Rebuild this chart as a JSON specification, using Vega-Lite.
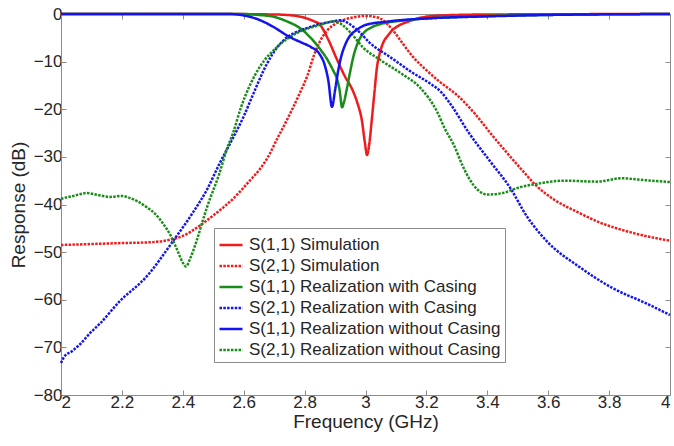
{
"$schema":"https://vega.github.io/schema/vega-lite/v6.json",
"width":609,"height":381,
"autosize":{"type":"none"},
"padding":{"left":61,"top":14,"right":4,"bottom":51},
"background":"white",
"config":{
 "font":"Liberation Sans",
 "view":{"stroke":"#8c8c8c","strokeWidth":1},
 "axis":{"domainColor":"#8c8c8c","tickColor":"#8c8c8c","labelColor":"#262626","titleColor":"#262626","labelFontSize":17,"titleFontSize":19,"titleFontWeight":"normal","grid":false,"tickSize":-5,"labelPadding":4},
 "legend":{"orient":"none","legendX":153,"legendY":214,"strokeColor":"#8c8c8c","fillColor":"white","padding":4,"labelFontSize":17,"labelColor":"#262626","symbolType":"stroke","symbolSize":529,"symbolStrokeWidth":2.5,"rowPadding":0,"labelOffset":5,"labelLimit":400,"title":null}
},
"data":{"values":[
{"s":"S(1,1) Simulation","f":2,"y":0},{"s":"S(1,1) Simulation","f":2.5,"y":0},{"s":"S(1,1) Simulation","f":2.7,"y":-0.1},{"s":"S(1,1) Simulation","f":2.76,"y":-0.3},{"s":"S(1,1) Simulation","f":2.8,"y":-0.8},{"s":"S(1,1) Simulation","f":2.83,"y":-1.5},{"s":"S(1,1) Simulation","f":2.85,"y":-2.2},{"s":"S(1,1) Simulation","f":2.875,"y":-5},{"s":"S(1,1) Simulation","f":2.906,"y":-9.5},{"s":"S(1,1) Simulation","f":2.93,"y":-12.8},{"s":"S(1,1) Simulation","f":2.959,"y":-16.2},{"s":"S(1,1) Simulation","f":2.975,"y":-19},{"s":"S(1,1) Simulation","f":2.988,"y":-22.3},{"s":"S(1,1) Simulation","f":2.998,"y":-27},{"s":"S(1,1) Simulation","f":3.005,"y":-29.6},{"s":"S(1,1) Simulation","f":3.012,"y":-27.5},{"s":"S(1,1) Simulation","f":3.021,"y":-22},{"s":"S(1,1) Simulation","f":3.03,"y":-16},{"s":"S(1,1) Simulation","f":3.037,"y":-11.5},{"s":"S(1,1) Simulation","f":3.047,"y":-8.2},{"s":"S(1,1) Simulation","f":3.057,"y":-6.2},{"s":"S(1,1) Simulation","f":3.075,"y":-4.4},{"s":"S(1,1) Simulation","f":3.09,"y":-3.3},{"s":"S(1,1) Simulation","f":3.11,"y":-2.4},{"s":"S(1,1) Simulation","f":3.136,"y":-1.7},{"s":"S(1,1) Simulation","f":3.18,"y":-0.8},{"s":"S(1,1) Simulation","f":3.25,"y":-0.3},{"s":"S(1,1) Simulation","f":3.4,"y":-0.1},{"s":"S(1,1) Simulation","f":4,"y":0},
{"s":"S(2,1) Simulation","f":2,"y":-48.5},{"s":"S(2,1) Simulation","f":2.1,"y":-48.3},{"s":"S(2,1) Simulation","f":2.2,"y":-48.1},{"s":"S(2,1) Simulation","f":2.3,"y":-47.9},{"s":"S(2,1) Simulation","f":2.35,"y":-47.5},{"s":"S(2,1) Simulation","f":2.4,"y":-46.6},{"s":"S(2,1) Simulation","f":2.45,"y":-44.7},{"s":"S(2,1) Simulation","f":2.5,"y":-42.3},{"s":"S(2,1) Simulation","f":2.565,"y":-38.8},{"s":"S(2,1) Simulation","f":2.62,"y":-35},{"s":"S(2,1) Simulation","f":2.654,"y":-32.5},{"s":"S(2,1) Simulation","f":2.68,"y":-30},{"s":"S(2,1) Simulation","f":2.71,"y":-26.2},{"s":"S(2,1) Simulation","f":2.74,"y":-22.5},{"s":"S(2,1) Simulation","f":2.785,"y":-16.5},{"s":"S(2,1) Simulation","f":2.81,"y":-12.8},{"s":"S(2,1) Simulation","f":2.83,"y":-8.8},{"s":"S(2,1) Simulation","f":2.85,"y":-5.8},{"s":"S(2,1) Simulation","f":2.875,"y":-3.4},{"s":"S(2,1) Simulation","f":2.906,"y":-1.9},{"s":"S(2,1) Simulation","f":2.96,"y":-0.7},{"s":"S(2,1) Simulation","f":3.0,"y":-0.4},{"s":"S(2,1) Simulation","f":3.03,"y":-0.6},{"s":"S(2,1) Simulation","f":3.05,"y":-1},{"s":"S(2,1) Simulation","f":3.07,"y":-2},{"s":"S(2,1) Simulation","f":3.09,"y":-3.4},{"s":"S(2,1) Simulation","f":3.12,"y":-6},{"s":"S(2,1) Simulation","f":3.156,"y":-9},{"s":"S(2,1) Simulation","f":3.2,"y":-11.8},{"s":"S(2,1) Simulation","f":3.245,"y":-14.3},{"s":"S(2,1) Simulation","f":3.3,"y":-17},{"s":"S(2,1) Simulation","f":3.36,"y":-21},{"s":"S(2,1) Simulation","f":3.41,"y":-25},{"s":"S(2,1) Simulation","f":3.46,"y":-28.8},{"s":"S(2,1) Simulation","f":3.52,"y":-33.2},{"s":"S(2,1) Simulation","f":3.56,"y":-36},{"s":"S(2,1) Simulation","f":3.62,"y":-39},{"s":"S(2,1) Simulation","f":3.7,"y":-41.7},{"s":"S(2,1) Simulation","f":3.77,"y":-43.8},{"s":"S(2,1) Simulation","f":3.83,"y":-45.1},{"s":"S(2,1) Simulation","f":3.88,"y":-46},{"s":"S(2,1) Simulation","f":3.94,"y":-46.9},{"s":"S(2,1) Simulation","f":4,"y":-47.6},
{"s":"S(1,1) Realization with Casing","f":2,"y":0},{"s":"S(1,1) Realization with Casing","f":2.6,"y":0},{"s":"S(1,1) Realization with Casing","f":2.65,"y":-0.2},{"s":"S(1,1) Realization with Casing","f":2.7,"y":-0.6},{"s":"S(1,1) Realization with Casing","f":2.74,"y":-1.5},{"s":"S(1,1) Realization with Casing","f":2.79,"y":-3.2},{"s":"S(1,1) Realization with Casing","f":2.82,"y":-5},{"s":"S(1,1) Realization with Casing","f":2.85,"y":-7.3},{"s":"S(1,1) Realization with Casing","f":2.874,"y":-9.5},{"s":"S(1,1) Realization with Casing","f":2.895,"y":-12},{"s":"S(1,1) Realization with Casing","f":2.906,"y":-13.5},{"s":"S(1,1) Realization with Casing","f":2.915,"y":-16},{"s":"S(1,1) Realization with Casing","f":2.923,"y":-19.6},{"s":"S(1,1) Realization with Casing","f":2.93,"y":-18.3},{"s":"S(1,1) Realization with Casing","f":2.94,"y":-15.3},{"s":"S(1,1) Realization with Casing","f":2.95,"y":-12},{"s":"S(1,1) Realization with Casing","f":2.96,"y":-9},{"s":"S(1,1) Realization with Casing","f":2.975,"y":-6},{"s":"S(1,1) Realization with Casing","f":2.99,"y":-4.3},{"s":"S(1,1) Realization with Casing","f":3.02,"y":-2.8},{"s":"S(1,1) Realization with Casing","f":3.05,"y":-2.1},{"s":"S(1,1) Realization with Casing","f":3.135,"y":-1.3},{"s":"S(1,1) Realization with Casing","f":3.32,"y":-0.6},{"s":"S(1,1) Realization with Casing","f":3.6,"y":-0.2},{"s":"S(1,1) Realization with Casing","f":4,"y":0},
{"s":"S(2,1) Realization with Casing","f":2,"y":-73.3},{"s":"S(2,1) Realization with Casing","f":2.01,"y":-72},{"s":"S(2,1) Realization with Casing","f":2.036,"y":-70.8},{"s":"S(2,1) Realization with Casing","f":2.06,"y":-69.5},{"s":"S(2,1) Realization with Casing","f":2.1,"y":-66.7},{"s":"S(2,1) Realization with Casing","f":2.128,"y":-65},{"s":"S(2,1) Realization with Casing","f":2.19,"y":-60.5},{"s":"S(2,1) Realization with Casing","f":2.28,"y":-55.2},{"s":"S(2,1) Realization with Casing","f":2.37,"y":-47.5},{"s":"S(2,1) Realization with Casing","f":2.43,"y":-42},{"s":"S(2,1) Realization with Casing","f":2.48,"y":-36.8},{"s":"S(2,1) Realization with Casing","f":2.52,"y":-31.5},{"s":"S(2,1) Realization with Casing","f":2.565,"y":-26},{"s":"S(2,1) Realization with Casing","f":2.6,"y":-21.5},{"s":"S(2,1) Realization with Casing","f":2.63,"y":-17},{"s":"S(2,1) Realization with Casing","f":2.676,"y":-10.5},{"s":"S(2,1) Realization with Casing","f":2.71,"y":-7},{"s":"S(2,1) Realization with Casing","f":2.74,"y":-5},{"s":"S(2,1) Realization with Casing","f":2.78,"y":-3.6},{"s":"S(2,1) Realization with Casing","f":2.81,"y":-2.9},{"s":"S(2,1) Realization with Casing","f":2.85,"y":-2.1},{"s":"S(2,1) Realization with Casing","f":2.89,"y":-1.6},{"s":"S(2,1) Realization with Casing","f":2.917,"y":-1.3},{"s":"S(2,1) Realization with Casing","f":2.95,"y":-2.2},{"s":"S(2,1) Realization with Casing","f":2.98,"y":-3.8},{"s":"S(2,1) Realization with Casing","f":3.015,"y":-6.1},{"s":"S(2,1) Realization with Casing","f":3.08,"y":-9},{"s":"S(2,1) Realization with Casing","f":3.156,"y":-12.4},{"s":"S(2,1) Realization with Casing","f":3.21,"y":-14.5},{"s":"S(2,1) Realization with Casing","f":3.25,"y":-16.5},{"s":"S(2,1) Realization with Casing","f":3.28,"y":-19},{"s":"S(2,1) Realization with Casing","f":3.34,"y":-25},{"s":"S(2,1) Realization with Casing","f":3.41,"y":-31},{"s":"S(2,1) Realization with Casing","f":3.475,"y":-36.5},{"s":"S(2,1) Realization with Casing","f":3.53,"y":-42.5},{"s":"S(2,1) Realization with Casing","f":3.6,"y":-48},{"s":"S(2,1) Realization with Casing","f":3.7,"y":-53},{"s":"S(2,1) Realization with Casing","f":3.81,"y":-57.5},{"s":"S(2,1) Realization with Casing","f":3.92,"y":-60.7},{"s":"S(2,1) Realization with Casing","f":4,"y":-63.2},
{"s":"S(2,1) Realization without Casing","f":2,"y":-38.8},{"s":"S(2,1) Realization without Casing","f":2.04,"y":-38.2},{"s":"S(2,1) Realization without Casing","f":2.085,"y":-37.6},{"s":"S(2,1) Realization without Casing","f":2.12,"y":-38},{"s":"S(2,1) Realization without Casing","f":2.16,"y":-38.4},{"s":"S(2,1) Realization without Casing","f":2.2,"y":-38.2},{"s":"S(2,1) Realization without Casing","f":2.22,"y":-38.5},{"s":"S(2,1) Realization without Casing","f":2.25,"y":-39.3},{"s":"S(2,1) Realization without Casing","f":2.28,"y":-40.5},{"s":"S(2,1) Realization without Casing","f":2.31,"y":-42},{"s":"S(2,1) Realization without Casing","f":2.335,"y":-44},{"s":"S(2,1) Realization without Casing","f":2.36,"y":-46.5},{"s":"S(2,1) Realization without Casing","f":2.38,"y":-49.3},{"s":"S(2,1) Realization without Casing","f":2.4,"y":-52.2},{"s":"S(2,1) Realization without Casing","f":2.41,"y":-53},{"s":"S(2,1) Realization without Casing","f":2.425,"y":-51.2},{"s":"S(2,1) Realization without Casing","f":2.446,"y":-47.5},{"s":"S(2,1) Realization without Casing","f":2.465,"y":-43.5},{"s":"S(2,1) Realization without Casing","f":2.48,"y":-40.5},{"s":"S(2,1) Realization without Casing","f":2.52,"y":-33.5},{"s":"S(2,1) Realization without Casing","f":2.545,"y":-28.3},{"s":"S(2,1) Realization without Casing","f":2.565,"y":-25},{"s":"S(2,1) Realization without Casing","f":2.59,"y":-19.8},{"s":"S(2,1) Realization without Casing","f":2.62,"y":-15},{"s":"S(2,1) Realization without Casing","f":2.654,"y":-11},{"s":"S(2,1) Realization without Casing","f":2.71,"y":-6.9},{"s":"S(2,1) Realization without Casing","f":2.775,"y":-4},{"s":"S(2,1) Realization without Casing","f":2.85,"y":-2.3},{"s":"S(2,1) Realization without Casing","f":2.9,"y":-1.5},{"s":"S(2,1) Realization without Casing","f":2.926,"y":-2.4},{"s":"S(2,1) Realization without Casing","f":2.96,"y":-4.6},{"s":"S(2,1) Realization without Casing","f":2.99,"y":-6.9},{"s":"S(2,1) Realization without Casing","f":3.05,"y":-9.7},{"s":"S(2,1) Realization without Casing","f":3.12,"y":-12.6},{"s":"S(2,1) Realization without Casing","f":3.18,"y":-15.5},{"s":"S(2,1) Realization without Casing","f":3.235,"y":-20.5},{"s":"S(2,1) Realization without Casing","f":3.26,"y":-24},{"s":"S(2,1) Realization without Casing","f":3.29,"y":-27.5},{"s":"S(2,1) Realization without Casing","f":3.32,"y":-32},{"s":"S(2,1) Realization without Casing","f":3.34,"y":-34.5},{"s":"S(2,1) Realization without Casing","f":3.37,"y":-37},{"s":"S(2,1) Realization without Casing","f":3.4,"y":-37.9},{"s":"S(2,1) Realization without Casing","f":3.45,"y":-37.6},{"s":"S(2,1) Realization without Casing","f":3.5,"y":-36.5},{"s":"S(2,1) Realization without Casing","f":3.56,"y":-35.7},{"s":"S(2,1) Realization without Casing","f":3.65,"y":-35},{"s":"S(2,1) Realization without Casing","f":3.76,"y":-35.2},{"s":"S(2,1) Realization without Casing","f":3.84,"y":-34.5},{"s":"S(2,1) Realization without Casing","f":3.92,"y":-34.9},{"s":"S(2,1) Realization without Casing","f":4,"y":-35.3},
{"s":"S(1,1) Realization without Casing","f":2,"y":0},{"s":"S(1,1) Realization without Casing","f":2.55,"y":0},{"s":"S(1,1) Realization without Casing","f":2.6,"y":-0.3},{"s":"S(1,1) Realization without Casing","f":2.65,"y":-1.2},{"s":"S(1,1) Realization without Casing","f":2.7,"y":-2.8},{"s":"S(1,1) Realization without Casing","f":2.75,"y":-4.8},{"s":"S(1,1) Realization without Casing","f":2.79,"y":-6},{"s":"S(1,1) Realization without Casing","f":2.82,"y":-6.9},{"s":"S(1,1) Realization without Casing","f":2.85,"y":-8.5},{"s":"S(1,1) Realization without Casing","f":2.865,"y":-10.5},{"s":"S(1,1) Realization without Casing","f":2.878,"y":-14},{"s":"S(1,1) Realization without Casing","f":2.89,"y":-19.5},{"s":"S(1,1) Realization without Casing","f":2.9,"y":-16},{"s":"S(1,1) Realization without Casing","f":2.91,"y":-12},{"s":"S(1,1) Realization without Casing","f":2.92,"y":-9},{"s":"S(1,1) Realization without Casing","f":2.935,"y":-6.2},{"s":"S(1,1) Realization without Casing","f":2.95,"y":-4.5},{"s":"S(1,1) Realization without Casing","f":2.97,"y":-3.4},{"s":"S(1,1) Realization without Casing","f":3.0,"y":-2.3},{"s":"S(1,1) Realization without Casing","f":3.07,"y":-1.6},{"s":"S(1,1) Realization without Casing","f":3.21,"y":-0.9},{"s":"S(1,1) Realization without Casing","f":3.4,"y":-0.5},{"s":"S(1,1) Realization without Casing","f":3.6,"y":-0.2},{"s":"S(1,1) Realization without Casing","f":4,"y":0}
]},
"layer":[
 {"mark":{"type":"line","strokeWidth":2.5,"interpolate":"monotone"},
  "encoding":{
   "x":{"field":"f","type":"quantitative","scale":{"domain":[2,4],"nice":false,"zero":false},"axis":{"orient":"bottom","values":[2,2.2,2.4,2.6,2.8,3,3.2,3.4,3.6,3.8,4],"format":"~g","title":"Frequency (GHz)","titlePadding":2,"labelPadding":4}},
   "y":{"field":"y","type":"quantitative","scale":{"domain":[-80,0],"nice":false},"axis":{"orient":"left","values":[0,-10,-20,-30,-40,-50,-60,-70,-80],"title":"Response (dB)","titlePadding":5}},
   "color":{"field":"s","type":"nominal","title":null,"scale":{"domain":["S(1,1) Simulation","S(2,1) Simulation","S(1,1) Realization with Casing","S(2,1) Realization with Casing","S(1,1) Realization without Casing","S(2,1) Realization without Casing"],"range":["#ee1c1c","#ee1c1c","#1a8c1a","#1414f0","#1414f0","#1a8c1a"]}},
   "strokeDash":{"field":"s","type":"nominal","title":null,"scale":{"domain":["S(1,1) Simulation","S(2,1) Simulation","S(1,1) Realization with Casing","S(2,1) Realization with Casing","S(1,1) Realization without Casing","S(2,1) Realization without Casing"],"range":[[1,0],[2.5,1.3],[1,0],[2.5,1.3],[1,0],[2.5,1.3]]}}
  }},
 {"mark":{"type":"point","opacity":0},
  "encoding":{
   "x":{"field":"f","type":"quantitative","axis":{"orient":"top","values":[2,2.2,2.4,2.6,2.8,3,3.2,3.4,3.6,3.8,4],"labels":false,"title":null,"domain":false}},
   "y":{"field":"y","type":"quantitative","axis":{"orient":"right","values":[0,-10,-20,-30,-40,-50,-60,-70,-80],"labels":false,"title":null,"domain":false}}
  }}
],
"resolve":{"axis":{"x":"independent","y":"independent"}}
}
